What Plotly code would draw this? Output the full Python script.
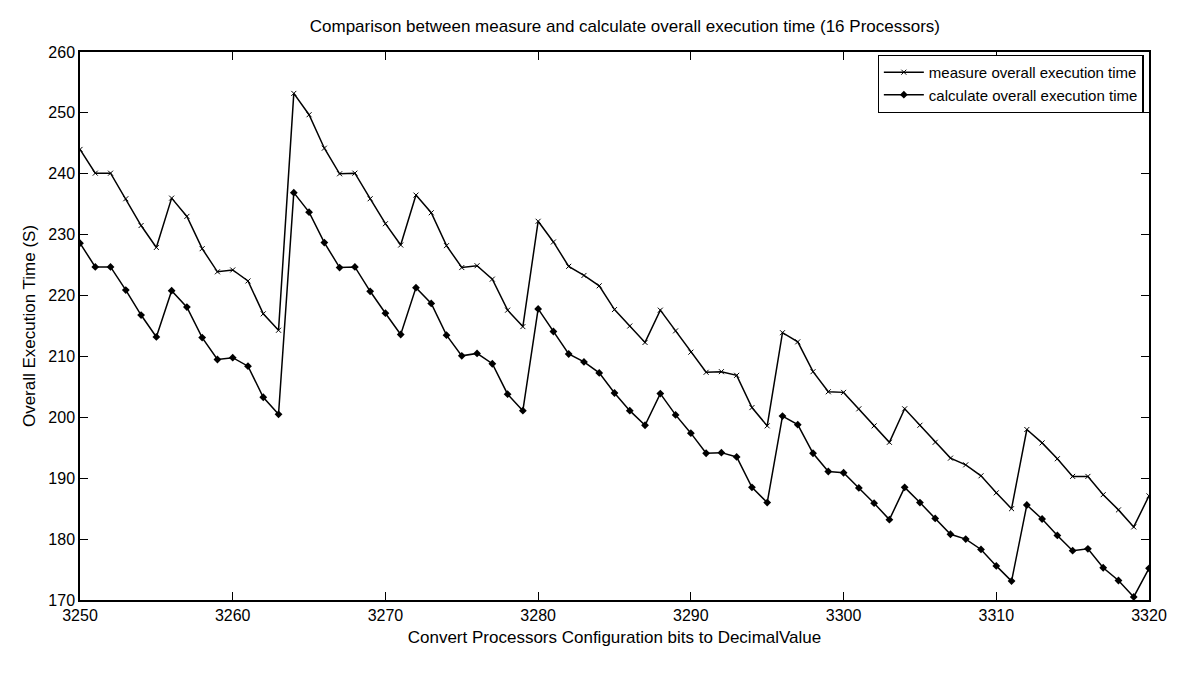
import plotly.graph_objects as go

x_values = list(range(3250, 3321))

measure_time = [244.0, 240.1, 240.1, 235.9, 231.5, 227.9, 236.0, 233.0, 227.7, 223.9,
                224.2, 222.4, 217.0, 214.3, 253.2, 249.7, 244.2, 240.0, 240.1, 235.9,
                231.8, 228.3, 236.5, 233.6, 228.2, 224.6, 224.9, 222.7, 217.6, 214.9,
                232.2, 228.8, 224.8, 223.3, 221.6, 217.7, 215.0, 212.3, 217.6, 214.2,
                210.7, 207.4, 207.5, 206.9, 201.6, 198.6, 213.9, 212.4, 207.5, 204.2,
                204.1, 201.4, 198.6, 195.9, 201.4, 198.7, 195.9, 193.3, 192.2, 190.4,
                187.6, 185.0, 198.0, 195.8, 193.2, 190.3, 190.3, 187.3, 184.8, 182.0,
                187.1]

calculate_time = [228.6, 224.7, 224.7, 220.9, 216.8, 213.2, 220.8, 218.1, 213.1, 209.5,
                  209.8, 208.4, 203.3, 200.5, 236.9, 233.7, 228.7, 224.6, 224.7, 220.7,
                  217.1, 213.6, 221.3, 218.7, 213.5, 210.1, 210.5, 208.8, 203.8, 201.1,
                  217.8, 214.1, 210.4, 209.1, 207.3, 204.0, 201.1, 198.7, 203.9, 200.4,
                  197.4, 194.1, 194.2, 193.5, 188.5, 186.0, 200.2, 198.8, 194.1, 191.1,
                  190.9, 188.4, 185.9, 183.2, 188.5, 186.0, 183.4, 180.8, 180.0, 178.3,
                  175.6, 173.1, 185.6, 183.3, 180.6, 178.1, 178.4, 175.3, 173.2, 170.5,
                  175.2]

series_names = ["measure overall execution time", "calculate overall execution time"]
x_ticks = [3250, 3260, 3270, 3280, 3290, 3300, 3310, 3320]
y_ticks = [170, 180, 190, 200, 210, 220, 230, 240, 250, 260]

FONT = "Liberation Sans Narrow, Liberation Sans, Arial, sans-serif"

fig = go.Figure()
fig.add_trace(go.Scatter(
    x=x_values, y=measure_time, name=series_names[0], mode="lines+markers",
    line=dict(color="black", width=1.5),
    marker=dict(symbol="x-thin", size=5, color="black", line=dict(color="black", width=1)),
))
fig.add_trace(go.Scatter(
    x=x_values, y=calculate_time, name=series_names[1], mode="lines+markers",
    line=dict(color="black", width=1.5),
    marker=dict(symbol="diamond", size=6, color="black"),
))

axis_common = dict(
    showgrid=False, zeroline=False, showline=True, linecolor="black", linewidth=1.5,
    mirror="ticks", ticks="inside", ticklen=8, tickcolor="black", tickwidth=1.2,
    tickfont=dict(family=FONT, size=16, color="black"),
)

fig.update_layout(
    width=1179, height=684,
    paper_bgcolor="white", plot_bgcolor="white",
    margin=dict(l=80, r=27, t=52, b=84),
    title=dict(text="Comparison between measure and calculate overall execution time (16 Processors)",
               x=0.53, xanchor="center", y=0.962, yanchor="middle",
               font=dict(family=FONT, size=17, color="black")),
    xaxis=dict(range=[3250, 3320], tickvals=x_ticks,
               title=dict(text="Convert Processors Configuration bits to DecimalValue",
                          font=dict(family=FONT, size=17, color="black"), standoff=8),
               **axis_common),
    yaxis=dict(range=[170, 260], tickvals=y_ticks,
               title=dict(text="Overall Execution Time (S)",
                          font=dict(family=FONT, size=17, color="black"), standoff=8),
               **axis_common),
    legend=dict(x=0.995, y=0.995, xanchor="right", yanchor="top",
                bgcolor="white", bordercolor="black", borderwidth=1.2,
                font=dict(family=FONT, size=15, color="black"),
                tracegroupgap=0, itemwidth=40),
    showlegend=True,
)

fig.write_html("out.html")
